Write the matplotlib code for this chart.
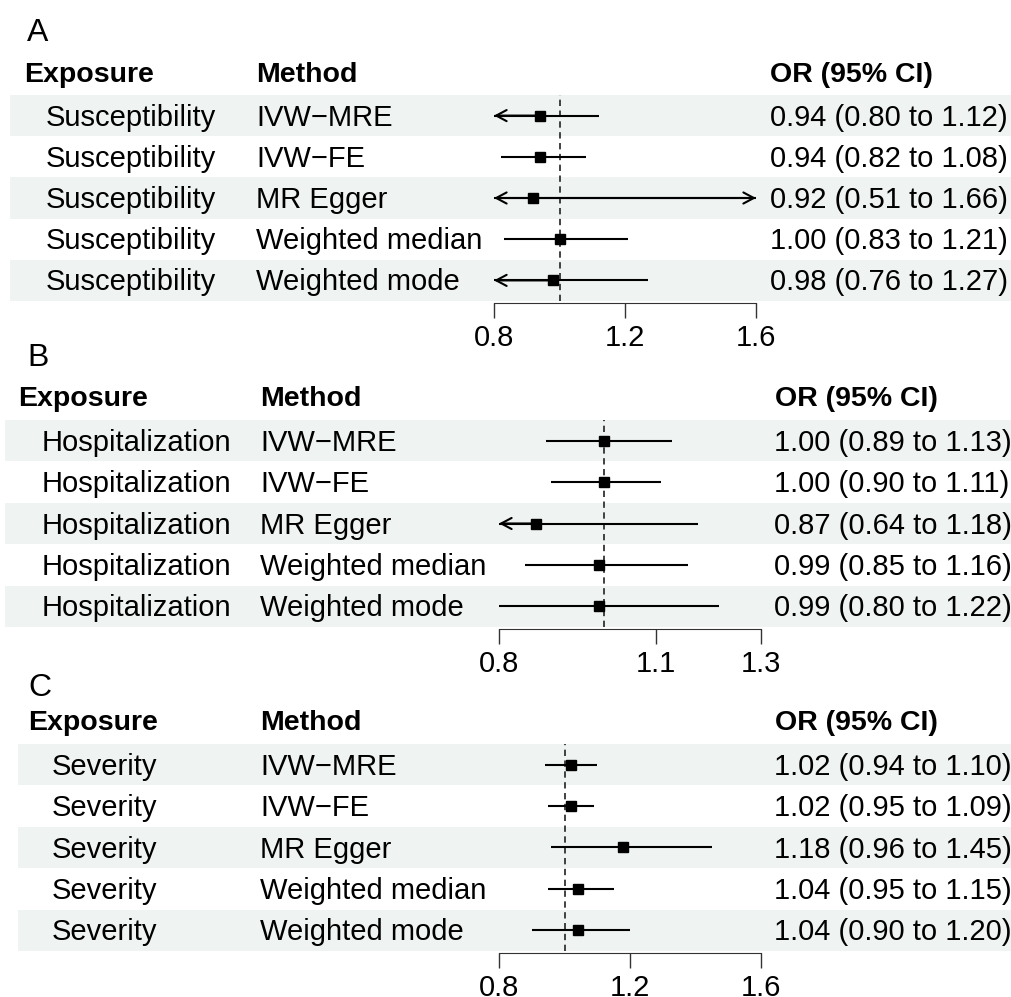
import matplotlib.pyplot as plt

plt.rcParams['font.family'] = ['Liberation Sans', 'DejaVu Sans']

W, H = 1011, 997

methods = ["IVW−MRE", "IVW−FE", "MR Egger", "Weighted median", "Weighted mode"]
headers = ["Exposure", "Method", "OR (95% CI)"]

# A: susceptibility
a_exposure = "Susceptibility"
a_est = [0.94, 0.94, 0.92, 1.00, 0.98]
a_lo = [0.797, 0.82, 0.51, 0.83, 0.76]
a_hi = [1.12, 1.08, 1.66, 1.21, 1.27]
a_ticks = [0.8, 1.2, 1.6]

# B: hospitalization
b_exposure = "Hospitalization"
b_est = [1.00, 1.00, 0.87, 0.99, 0.99]
b_lo = [0.89, 0.90, 0.64, 0.85, 0.80]
b_hi = [1.13, 1.11, 1.18, 1.16, 1.22]
b_ticks = [0.8, 1.1, 1.3]

# C: severity
c_exposure = "Severity"
c_est = [1.02, 1.02, 1.18, 1.04, 1.04]
c_lo = [0.94, 0.95, 0.96, 0.95, 0.90]
c_hi = [1.10, 1.09, 1.45, 1.15, 1.20]
c_ticks = [0.8, 1.2, 1.6]

band = "#eff3f2"
fs = 21

fig = plt.figure(figsize=(W / 100, H / 100), dpi=100)
bg = fig.add_axes([0, 0, 1, 1])
bg.set_xlim(0, W)
bg.set_ylim(H, 0)
bg.axis('off')


def panel(letter, exposure, est, lo, hi, ticks, lay):
    top, rh = lay['top'], lay['rh']
    n = len(est)
    # panel letter, headers, table text
    bg.text(lay['lx'], lay['lb'], letter, fontsize=23, va='baseline')
    for x, s in zip(lay['hx'], headers):
        bg.text(x, lay['hb'], s, fontsize=20.5, fontweight='bold', va='baseline')
    for i in range(n):
        y0 = top + i * rh
        if i % 2 == 0:
            bg.fill_between([lay['bx'], W], y0, y0 + rh, color=band, lw=0, zorder=0)
        yb = y0 + rh / 2 + 10
        bg.text(lay['cx'][0], yb, exposure, fontsize=fs, va='baseline')
        bg.text(lay['cx'][1], yb, methods[i], fontsize=fs, va='baseline')
        bg.text(lay['cx'][2], yb, f"{est[i]:.2f} ({lo[i]:.2f} to {hi[i]:.2f})",
                fontsize=fs, va='baseline')

    # forest part
    x0, x1 = lay['x0'], lay['x1']
    ax = fig.add_axes([x0 / W, 1 - (top + n * rh) / H, (x1 - x0) / W, n * rh / H])
    ax.patch.set_visible(False)
    xmin, xmax = ticks[0], ticks[-1]
    ax.set_xlim(xmin, xmax)
    ax.set_ylim(n, 0)
    for s in ['top', 'left', 'right']:
        ax.spines[s].set_visible(False)
    ax.spines['bottom'].set_position(('outward', 1.5))
    ax.spines['bottom'].set_color('#333333')
    ax.set_yticks([])
    ax.set_xticks(ticks)
    ax.set_xticklabels([f"{t:g}" for t in ticks])
    ax.tick_params(axis='x', length=11, width=1, color='#333333', pad=4, labelsize=fs)

    ax.axvline(1.0, color='#333333', ls=(0, (3.5, 2.5)), lw=1.3, zorder=1)
    arrow = dict(arrowstyle='->,head_length=0.75,head_width=0.4', color='black',
                 lw=1.5, shrinkA=0, shrinkB=0)
    for i in range(n):
        y = i + 0.5
        l = max(lo[i], xmin)
        h = min(hi[i], xmax)
        ax.plot([l, h], [y, y], color='black', lw=1.5, zorder=2, solid_capstyle='butt')
        if lo[i] < xmin:
            ax.annotate('', xy=(xmin, y), xytext=(est[i], y), arrowprops=arrow,
                        annotation_clip=False)
        if hi[i] > xmax:
            ax.annotate('', xy=(xmax, y), xytext=(est[i], y), arrowprops=arrow,
                        annotation_clip=False)
        ax.plot(est[i], y, 's', ms=7.5, color='black', zorder=3)


panel("A", a_exposure, a_est, a_lo, a_hi, a_ticks,
      dict(top=95, rh=41.2, x0=494, x1=756, bx=10, lx=27, lb=41, hb=82,
           hx=[24, 256, 770], cx=[46, 256, 770]))
panel("B", b_exposure, b_est, b_lo, b_hi, b_ticks,
      dict(top=420, rh=41.4, x0=499, x1=761, bx=5, lx=27, lb=366, hb=406,
           hx=[18, 260, 775], cx=[42, 260, 774]))
panel("C", c_exposure, c_est, c_lo, c_hi, c_ticks,
      dict(top=744, rh=41.4, x0=499, x1=761, bx=18, lx=28, lb=696, hb=730,
           hx=[28, 260, 775], cx=[52, 260, 774]))

fig.savefig("out.png", dpi=100)
